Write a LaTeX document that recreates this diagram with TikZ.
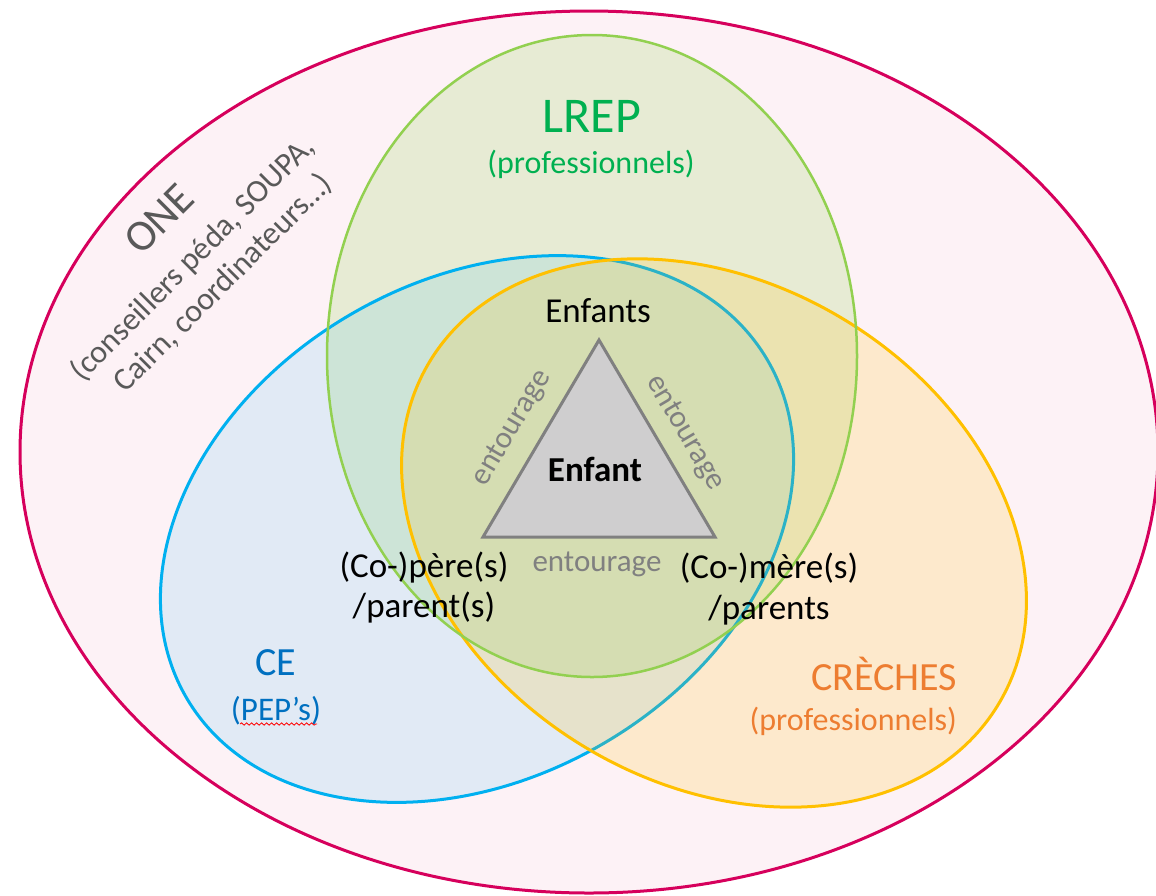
\documentclass[tikz,border=0pt]{standalone}
\usepackage{fontspec}
\setmainfont{Carlito}
\usetikzlibrary{decorations.pathmorphing}
\definecolor{onered}{RGB}{214,0,92}
\definecolor{onefill}{RGB}{253,242,246}
\definecolor{lrepgreen}{RGB}{146,208,80}
\definecolor{lreptext}{RGB}{0,176,80}
\definecolor{ceblue}{RGB}{0,176,240}
\definecolor{cetext}{RGB}{0,112,192}
\definecolor{crechyellow}{RGB}{255,192,0}
\definecolor{crechtext}{RGB}{237,125,49}
\definecolor{onegray}{RGB}{89,89,89}
\definecolor{entgray}{RGB}{128,128,128}
\definecolor{trifill}{RGB}{207,206,207}
\begin{document}
\begin{tikzpicture}[x=0.5pt,y=-0.5pt,
  txt/.style={inner sep=0pt, outer sep=0pt},
  blk/.style={txt, text=black, font=\fontsize{17.5}{21}\selectfont},
  ent/.style={txt, text=entgray, font=\fontsize{15.5}{19}\selectfont},
  onetxt/.style={txt, text=onegray, rotate=45},
  ringline/.style={line width=1.5pt}]
\useasboundingbox (0,0) rectangle (1156,895);
\fill[white] (0,0) rectangle (1156,895);
% ONE
\coordinate (oc) at (589,452);
\fill[onefill] (oc) ellipse[x radius=284.5pt, y radius=220.5pt];
% LREP fill
\coordinate (lc) at (592,356);
\fill[lrepgreen, fill opacity=0.2] (lc) ellipse[x radius=132.5pt, y radius=160.5pt];
% CE
\coordinate (cc) at (477,529);
\fill[ceblue, fill opacity=0.11, rotate around={30:(cc)}] (cc) ellipse[x radius=168pt, y radius=124.5pt];
\draw[ceblue, ringline, rotate around={30:(cc)}] (cc) ellipse[x radius=168pt, y radius=124.5pt];
% CRECHES
\coordinate (kc) at (714,533);
\fill[crechyellow, fill opacity=0.17, rotate around={-31:(kc)}] (kc) ellipse[x radius=166pt, y radius=125pt];
\draw[crechyellow, ringline, rotate around={-31:(kc)}] (kc) ellipse[x radius=166pt, y radius=125pt];
% LREP stroke and ONE stroke
\draw[lrepgreen, line width=1.25pt] (lc) ellipse[x radius=132.5pt, y radius=160.5pt];
\draw[onered, ringline] (oc) ellipse[x radius=284.5pt, y radius=220.5pt];
% triangle
\coordinate (ta) at (599,340);
\coordinate (tb) at (483,537);
\coordinate (tc) at (715,537);
\draw[entgray, fill=trifill, line width=1.5pt] (ta) -- (tb) -- (tc) -- cycle;
% texts
\node[onetxt, font=\fontsize{22}{26}\selectfont] (one) at (159,219) {ONE};
\node[onetxt, font=\fontsize{16}{19}\selectfont] (one1) at (193,259) {(conseillers péda, SOUPA,};
\node[onetxt, font=\fontsize{16}{19}\selectfont] (one2) at (223,283) {Cairn, coordinateurs…)};
\node[txt, anchor=base, text=lreptext, font=\fontsize{25}{30}\selectfont] (lrep) at (592,132) {LREP};
\node[txt, anchor=base, text=lreptext, font=\fontsize{16}{19}\selectfont] (lrepsub) at (591,173) {(professionnels)};
\node[txt, anchor=base, text=cetext, font=\fontsize{20}{24}\selectfont] (ce) at (276,675) {CE};
\node[txt, anchor=base, text=cetext, font=\fontsize{16.5}{20}\selectfont] (pep) at (276,720) {(PEP’s)};
\coordinate (wl) at (240,724);
\coordinate (wr) at (317,724);
\draw[red, line width=0.4pt, decorate, decoration={snake, amplitude=0.6pt, segment length=2.5pt}] (wl) -- (wr);
\node[txt, anchor=base east, text=crechtext, font=\fontsize{20}{24}\selectfont] (creches) at (957,690) {CRÈCHES};
\node[txt, anchor=base east, text=crechtext, font=\fontsize{16}{19}\selectfont] (crechsub) at (957,730) {(professionnels)};
\node[blk, anchor=base] (enfants) at (598,322) {Enfants};
\node[blk, anchor=base] (enfant) at (595,481) {\bfseries Enfant};
\node[blk, anchor=base] (pere) at (424,577) {(Co-)père(s)};
\node[blk, anchor=base] (pere2) at (424,617) {/parent(s)};
\node[blk, anchor=base] (mere) at (769,578) {(Co-)mère(s)};
\node[blk, anchor=base] (mere2) at (769,619) {/parents};
\node[ent, anchor=base] (entb) at (597,571) {entourage};
\node[ent, rotate=59.5] (entl) at (512,428) {entourage};
\node[ent, rotate=-59.5] (entr) at (685,433) {entourage};
\end{tikzpicture}
\end{document}
